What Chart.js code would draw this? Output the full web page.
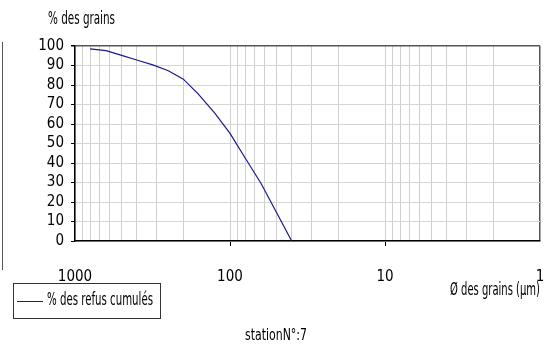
<!DOCTYPE html>
<html><head><meta charset="utf-8">
<script src="https://cdn.jsdelivr.net/npm/chart.js@4/dist/chart.umd.min.js"></script>
<style>html,body{margin:0;padding:0;background:#fff;}#wrap{width:552px;height:349px;position:relative;}</style>
</head><body><div id="wrap"><canvas id="c" width="552" height="349"></canvas></div>
<script>
const grainSizes = [800, 630, 500, 400, 315, 250, 200, 160, 125, 100, 80, 63, 50, 40];
const cumulativeRefusal = [98.5, 97.6, 95.2, 92.8, 90.3, 87.3, 83, 75.3, 65.5, 55.2, 42.7, 29.5, 14.5, 0];
const yTicks = [0,10,20,30,40,50,60,70,80,90,100];
const seriesName = '% des refus cumulés';
const yTitle = '% des grains';
const xTitle = 'Ø des grains (µm)';
const subTitle = 'stationN°:7';

const FONT = "'DejaVu Sans Condensed', 'DejaVu Sans', sans-serif";
const isDecade = v => Math.abs(Math.log10(v) - Math.round(Math.log10(v))) < 1e-9;

function narrowText(ctx, text, x, y, width, align) {
  const w = ctx.measureText(text).width;
  const sx = Math.min(1, width / w);
  ctx.save();
  let left = x;
  if (align === 'right') left = x - w * sx;
  else if (align === 'center') left = x - w * sx / 2;
  ctx.translate(left, y);
  ctx.scale(sx, 1);
  ctx.textAlign = 'left';
  ctx.fillText(text, 0, 0);
  ctx.restore();
}

const deco = {
  id: 'deco',
  afterDraw(chart) {
    const ctx = chart.ctx, ca = chart.chartArea;
    ctx.save();
    ctx.fillStyle = '#000';
    ctx.font = '17px ' + FONT;
    ctx.textBaseline = 'middle';
    narrowText(ctx, yTitle, 48, 20, 67, 'left');
    narrowText(ctx, xTitle, ca.right, 291, 90, 'right');
    ctx.font = '16px ' + FONT;
    narrowText(ctx, subTitle, 276, 336, 62, 'center');
    // legend
    ctx.strokeStyle = '#333';
    ctx.lineWidth = 1;
    ctx.strokeRect(13.5, 283.5, 147, 35);
    ctx.strokeStyle = chart.data.datasets[0].borderColor;
    ctx.beginPath(); ctx.moveTo(17, 301.5); ctx.lineTo(43, 301.5); ctx.stroke();
    ctx.fillStyle = '#000';
    ctx.font = '17px ' + FONT;
    narrowText(ctx, chart.data.datasets[0].label, 47, 301, 106, 'left');
    // neighbouring frame edge at far left
    ctx.strokeStyle = '#555';
    ctx.beginPath(); ctx.moveTo(2.5, 42); ctx.lineTo(2.5, 270); ctx.stroke();
    ctx.restore();
  }
};

new Chart(document.getElementById('c'), {
  type: 'scatter',
  data: {
    datasets: [{
      label: seriesName,
      data: grainSizes.map((g, i) => ({x: g, y: cumulativeRefusal[i]})),
      showLine: true,
      borderColor: '#1a1a8c',
      backgroundColor: '#1a1a8c',
      borderWidth: 1.2,
      pointRadius: 0,
      tension: 0
    }]
  },
  options: {
    responsive: false,
    animation: false,
    devicePixelRatio: 1,
    layout: { padding: { top: 46, right: 12, left: 0, bottom: 0 } },
    plugins: { legend: { display: false }, title: { display: false }, tooltip: { enabled: false } },
    scales: {
      x: {
        type: 'logarithmic',
        reverse: true,
        min: 1, max: 1000,
        afterFit: s => { s.height = 108; },
        afterBuildTicks: s => {
          const t = [];
          for (let d = 1; d <= 1000; d *= 10) {
            for (let m = 1; m <= 9; m++) { const v = m * d; if (v <= 1000) t.push({value: v, major: m === 1}); }
          }
          s.ticks = t;
        },
        ticks: {
          autoSkip: false, maxRotation: 0, padding: 22,
          color: '#000', font: { family: FONT, size: 15 },
          callback: v => isDecade(v) ? String(v) : ''
        },
        grid: {
          drawTicks: true, tickLength: 5,
          color: c => (c.tick && c.tick.value === 1) ? '#555' : '#cfcfcf',
          tickColor: c => (c.tick && isDecade(c.tick.value) && c.tick.value !== 1 && c.tick.value !== 1000) ? '#000' : 'rgba(0,0,0,0)',
          lineWidth: c => (c.tick && c.tick.value === 1) ? 1.5 : 1
        },
        border: { display: true, color: '#000', width: 1.5 }
      },
      y: {
        min: 0, max: 100,
        afterFit: s => { s.width = 75; },
        afterBuildTicks: s => { s.ticks = yTicks.map(v => ({value: v})); },
        ticks: { autoSkip: false, padding: 7, color: '#000', font: { family: FONT, size: 15 } },
        grid: {
          drawTicks: true, tickLength: 4, tickColor: '#000',
          color: c => (c.tick && c.tick.value === 100) ? '#555' : '#d6d6d6',
          lineWidth: c => (c.tick && c.tick.value === 100) ? 1.5 : 1
        },
        border: { display: true, color: '#000', width: 1.5 }
      }
    }
  },
  plugins: [deco]
});
</script></body></html>
